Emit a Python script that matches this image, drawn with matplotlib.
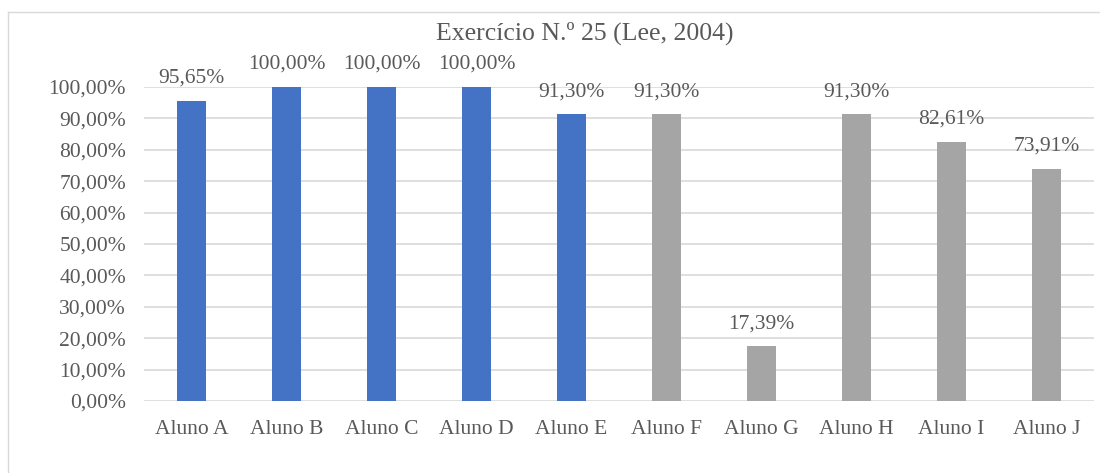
import matplotlib.pyplot as plt
from matplotlib.ticker import FuncFormatter
from matplotlib.lines import Line2D

alunos = ['Aluno A', 'Aluno B', 'Aluno C', 'Aluno D', 'Aluno E',
          'Aluno F', 'Aluno G', 'Aluno H', 'Aluno I', 'Aluno J']
valores = [95.65, 100.00, 100.00, 100.00, 91.30,
           91.30, 17.39, 91.30, 82.61, 73.91]
grupo = ['azul'] * 5 + ['cinza'] * 5

cores = {'azul': '#4472C4', 'cinza': '#A5A5A5'}
texto = '#595959'


def pct(v, pos=None):
    return f'{v:.2f}%'.replace('.', ',')


plt.rcParams['font.family'] = ['Liberation Serif', 'DejaVu Serif']

fig = plt.figure(figsize=(11, 4.73), dpi=100)
ax = fig.add_axes([144 / 1100, 1 - 401 / 473, 950 / 1100, 314 / 473])

x = range(len(alunos))
ax.bar(x, valores, width=0.31, color=[cores[g] for g in grupo], zorder=3)

for i, v in zip(x, valores):
    ax.annotate(pct(v), (i, v), xytext=(0, 9.5), textcoords='offset points',
                ha='center', va='bottom', fontsize=15.5, color=texto)

ax.set_xlim(-0.5, len(alunos) - 0.5)
ax.set_ylim(0, 100)
ax.set_yticks(range(0, 101, 10))
ax.yaxis.set_major_formatter(FuncFormatter(pct))
ax.set_xticks(list(x))
ax.set_xticklabels(alunos)
ax.tick_params(axis='both', length=0, labelsize=15.5, colors=texto)
ax.tick_params(axis='x', pad=13.5)
ax.tick_params(axis='y', pad=13)
ax.grid(axis='y', color='#D9D9D9', linewidth=1.2, zorder=0)
for s in ax.spines.values():
    s.set_visible(False)

fig.text(585 / 1100, 1 - 33 / 473, 'Exercício N.º 25 (Lee, 2004)',
         ha='center', va='center', fontsize=18.5, color=texto)

# moldura do gráfico (só esquerda e topo visíveis no recorte)
fig.add_artist(Line2D([8 / 1100, 8 / 1100], [0, 1 - 12 / 473],
                      transform=fig.transFigure, color='#D9D9D9', linewidth=1))
fig.add_artist(Line2D([8 / 1100, 1], [1 - 12 / 473, 1 - 12 / 473],
                      transform=fig.transFigure, color='#D9D9D9', linewidth=1))

fig.savefig('out.png', dpi=100, facecolor='white')
